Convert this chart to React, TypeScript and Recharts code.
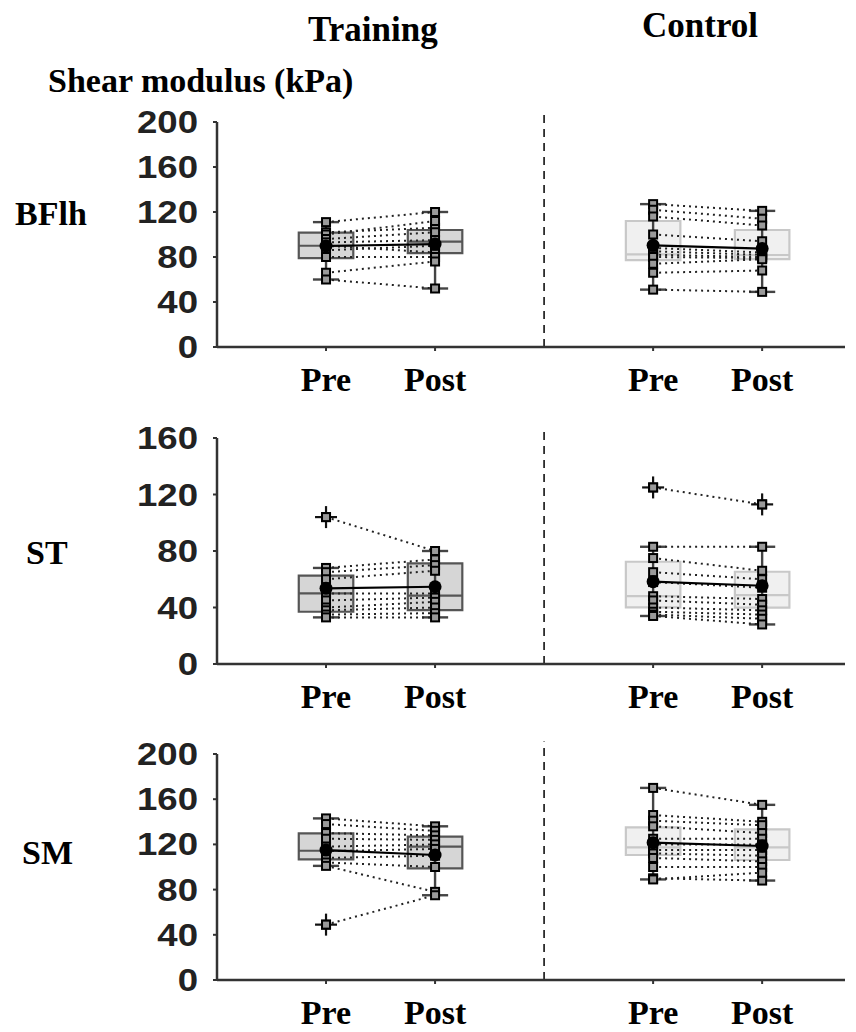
import React from "react";
import {
  ComposedChart,
  ReferenceArea,
  ReferenceLine,
  Scatter,
  XAxis,
  YAxis
} from "recharts";

const xPositions = [1, 2, 4, 5];
const xLabels = ["Pre", "Post", "Pre", "Post"];

// per-subject values (kPa), paired pre -> post
const bflhTrainingPre = [111, 102, 100, 96, 93, 90, 86, 80, 66, 60];
const bflhTrainingPost = [120, 106, 112, 102, 95, 84, 90, 80, 76, 52];
const bflhControlPre = [127, 122, 116, 100, 88, 85, 82, 80, 74, 66, 51];
const bflhControlPost = [121, 114, 108, 94, 84, 82, 80, 79, 78, 68, 49];

const stTrainingPre = [104, 68, 65, 60, 50, 45, 40, 38, 35, 33];
const stTrainingPost = [80, 74, 70, 66, 50, 47, 44, 40, 36, 33];
const stControlPre = [125, 83, 75, 65, 58, 48, 45, 40, 37, 35, 34];
const stControlPost = [113, 83, 66, 60, 54, 46, 42, 38, 35, 32, 28];

const smTrainingPre = [143, 138, 130, 125, 118, 114, 108, 104, 101, 49];
const smTrainingPost = [136, 132, 128, 124, 120, 116, 110, 100, 78, 75];
const smControlPre = [170, 146, 141, 136, 125, 120, 115, 112, 108, 100, 90, 89];
const smControlPost = [155, 140, 137, 130, 125, 120, 115, 110, 105, 100, 88, 95];

// box stats: [whisker low, q1, median, q3, whisker high] for T-pre, T-post, C-pre, C-post
const bflhBoxes = [
  [60, 79, 90, 101.6, 111],
  [52, 83.5, 93.6, 104, 120],
  [51, 77.3, 82.4, 112, 127],
  [49, 78.2, 81.8, 104, 121]
];
const stBoxes = [
  [33, 37, 50, 62.5, 68],
  [33, 38.2, 48.4, 71.3, 80],
  [34, 40.1, 48.1, 72.4, 83],
  [28, 39.9, 48.8, 65.3, 83]
];
const smBoxes = [
  [101, 106.8, 114.4, 129.8, 143],
  [75, 98.8, 118, 126.8, 136],
  [89, 110.6, 117.4, 135, 170],
  [88, 106.2, 117.4, 133.3, 155]
];

const bflhMeans = [89.8, 91.5, 90.4, 87.5];
const stMeans = [53.6, 54.7, 58.3, 55.4];
const smMeans = [115, 110.6, 121.5, 118.6];

const ticks200 = [0, 40, 80, 120, 160, 200];
const ticks160 = [0, 40, 80, 120, 160];

const serif = '"Times New Roman", "Liberation Serif", serif';
const sans = 'Arial, "Liberation Sans", sans-serif';

const trainingStyle = { fill: "#d6d6d6", stroke: "#555", median: "#555" };
const controlStyle = { fill: "#f0f0f0", stroke: "#c8c8c8", median: "#c8c8c8" };

function Square(props: any) {
  const { cx, cy } = props;
  if (cx == null || cy == null) return null;
  return <rect x={cx - 4} y={cy - 4} width={8} height={8} fill="#9a9a9a" stroke="#000" strokeWidth={2} />;
}

function Cross(props: any) {
  const { cx, cy } = props;
  if (cx == null || cy == null) return null;
  return (
    <g>
      <line x1={cx - 11} x2={cx + 11} y1={cy} y2={cy} stroke="#111" strokeWidth={2.2} />
      <line x1={cx} x2={cx} y1={cy - 11} y2={cy + 11} stroke="#111" strokeWidth={2.2} />
      <rect x={cx - 4} y={cy - 4} width={8} height={8} fill="#9a9a9a" stroke="#000" strokeWidth={2} />
    </g>
  );
}

function MeanDot(props: any) {
  const { cx, cy } = props;
  if (cx == null || cy == null) return null;
  return <circle cx={cx} cy={cy} r={6.5} fill="#000" />;
}

function XTick(props: any) {
  const { x, y, payload } = props;
  const idx = xPositions.indexOf(payload.value);
  return (
    <text x={x} y={y + 38} textAnchor="middle" fontFamily={serif} fontWeight="bold" fontSize={34} fill="#000">
      {xLabels[idx]}
    </text>
  );
}

function YTick(props: any) {
  const { x, y, payload } = props;
  return (
    <g transform={`translate(${x},${y + 11}) scale(1.18,1)`}>
      <text x={0} y={0} textAnchor="end" fontFamily={sans} fontWeight="bold" fontSize={31} fill="#222">
        {payload.value}
      </text>
    </g>
  );
}

type PanelProps = {
  top: number;
  height: number;
  marginTop: number;
  axisHeight: number;
  yMax: number;
  yTicks: number[];
  dividerTop: number;
  boxes: number[][];
  means: number[];
  trainingPre: number[];
  trainingPost: number[];
  controlPre: number[];
  controlPost: number[];
};

function Panel(p: PanelProps) {
  const groups = [
    { pre: p.trainingPre, post: p.trainingPost, xs: [xPositions[0], xPositions[1]], boxes: [0, 1] },
    { pre: p.controlPre, post: p.controlPost, xs: [xPositions[2], xPositions[3]], boxes: [2, 3] }
  ];

  const outliers: { x: number; y: number }[] = [];
  groups.forEach((g) => {
    [g.pre, g.post].forEach((vals, k) => {
      const b = p.boxes[g.boxes[k]];
      vals.forEach((v) => {
        if (v < b[0] || v > b[4]) outliers.push({ x: g.xs[k], y: v });
      });
    });
  });

  return (
    <div style={{ position: "absolute", left: 0, top: p.top }}>
      <ComposedChart width={856} height={p.height} margin={{ top: p.marginTop, right: 11, bottom: 0, left: 0 }}>
        <XAxis
          type="number"
          dataKey="x"
          domain={[0, 5.76]}
          ticks={xPositions}
          interval={0}
          height={p.axisHeight}
          tick={<XTick />}
          tickSize={4}
          tickLine={{ stroke: "#333", strokeWidth: 2 }}
          axisLine={{ stroke: "#333", strokeWidth: 2.5 }}
          allowDataOverflow
        />
        <YAxis
          type="number"
          dataKey="y"
          domain={[0, p.yMax]}
          ticks={p.yTicks}
          interval={0}
          width={217}
          tick={<YTick />}
          tickSize={4}
          tickMargin={15}
          tickLine={{ stroke: "#333", strokeWidth: 2 }}
          axisLine={{ stroke: "#333", strokeWidth: 2.5 }}
          allowDataOverflow
        />

        {p.boxes.map((b, i) => {
          const s = i < 2 ? trainingStyle : controlStyle;
          const x = xPositions[i];
          return (
            <ReferenceArea
              key={`box-${i}`}
              x1={x - 0.25}
              x2={x + 0.25}
              y1={b[1]}
              y2={b[3]}
              fill={s.fill}
              fillOpacity={1}
              stroke={s.stroke}
              strokeWidth={2.2}
            />
          );
        })}
        {p.boxes.map((b, i) => {
          const s = i < 2 ? trainingStyle : controlStyle;
          const x = xPositions[i];
          return (
            <ReferenceLine
              key={`med-${i}`}
              segment={[{ x: x - 0.25, y: b[2] }, { x: x + 0.25, y: b[2] }]}
              stroke={s.median}
              strokeWidth={2.2}
            />
          );
        })}
        {p.boxes.map((b, i) => (
          <ReferenceLine
            key={`wh-${i}`}
            segment={[{ x: xPositions[i], y: b[0] }, { x: xPositions[i], y: b[4] }]}
            stroke="#444"
            strokeWidth={2.4}
          />
        ))}
        {p.boxes.map((b, i) => (
          <ReferenceLine
            key={`caplo-${i}`}
            segment={[{ x: xPositions[i] - 0.12, y: b[0] }, { x: xPositions[i] + 0.12, y: b[0] }]}
            stroke="#444"
            strokeWidth={2.4}
          />
        ))}
        {p.boxes.map((b, i) => (
          <ReferenceLine
            key={`caphi-${i}`}
            segment={[{ x: xPositions[i] - 0.12, y: b[4] }, { x: xPositions[i] + 0.12, y: b[4] }]}
            stroke="#444"
            strokeWidth={2.4}
          />
        ))}

        <ReferenceLine
          segment={[{ x: 3, y: 0 }, { x: 3, y: p.dividerTop }]}
          ifOverflow="visible"
          stroke="#111"
          strokeWidth={1.6}
          strokeDasharray="8 6"
        />

        {groups.map((g, gi) =>
          g.pre.map((v, i) => (
            <Scatter
              key={`subj-${gi}-${i}`}
              data={[
                { x: g.xs[0], y: v },
                { x: g.xs[1], y: g.post[i] }
              ]}
              dataKey="y"
              line={{ stroke: "#222", strokeWidth: 2, strokeDasharray: "2 4" }}
              shape={<Square />}
              isAnimationActive={false}
            />
          ))
        )}

        <Scatter data={outliers} dataKey="y" shape={<Cross />} isAnimationActive={false} />

        {groups.map((g, gi) => (
          <Scatter
            key={`mean-${gi}`}
            data={[
              { x: g.xs[0], y: p.means[g.boxes[0]] },
              { x: g.xs[1], y: p.means[g.boxes[1]] }
            ]}
            dataKey="y"
            line={{ stroke: "#000", strokeWidth: 2.2 }}
            shape={<MeanDot />}
            isAnimationActive={false}
          />
        ))}
      </ComposedChart>
    </div>
  );
}

const textStyle: React.CSSProperties = {
  position: "absolute",
  fontFamily: serif,
  fontWeight: "bold",
  fontSize: 34,
  color: "#000",
  whiteSpace: "nowrap",
  lineHeight: 1
};

export default function App() {
  return (
    <div style={{ position: "relative", width: 856, height: 1032, background: "#fff" }}>
      <style>{`body{margin:0}`}</style>
      <div style={{ ...textStyle, left: 308, top: 12, fontSize: 35 }}>Training</div>
      <div style={{ ...textStyle, left: 642, top: 8, fontSize: 35 }}>Control</div>
      <div style={{ ...textStyle, left: 48, top: 64 }}>Shear modulus (kPa)</div>
      <div style={{ ...textStyle, left: 15, top: 197 }}>BFlh</div>
      <div style={{ ...textStyle, left: 26, top: 536 }}>ST</div>
      <div style={{ ...textStyle, left: 22, top: 836 }}>SM</div>

      <Panel
        top={0}
        height={400}
        marginTop={122}
        axisHeight={53}
        yMax={200}
        yTicks={ticks200}
        dividerTop={210}
        boxes={bflhBoxes}
        means={bflhMeans}
        trainingPre={bflhTrainingPre}
        trainingPost={bflhTrainingPost}
        controlPre={bflhControlPre}
        controlPost={bflhControlPost}
      />
      <Panel
        top={400}
        height={320}
        marginTop={38}
        axisHeight={56}
        yMax={160}
        yTicks={ticks160}
        dividerTop={168}
        boxes={stBoxes}
        means={stMeans}
        trainingPre={stTrainingPre}
        trainingPost={stTrainingPost}
        controlPre={stControlPre}
        controlPost={stControlPost}
      />
      <Panel
        top={720}
        height={312}
        marginTop={34}
        axisHeight={52}
        yMax={200}
        yTicks={ticks200}
        dividerTop={211}
        boxes={smBoxes}
        means={smMeans}
        trainingPre={smTrainingPre}
        trainingPost={smTrainingPost}
        controlPre={smControlPre}
        controlPost={smControlPost}
      />
    </div>
  );
}
